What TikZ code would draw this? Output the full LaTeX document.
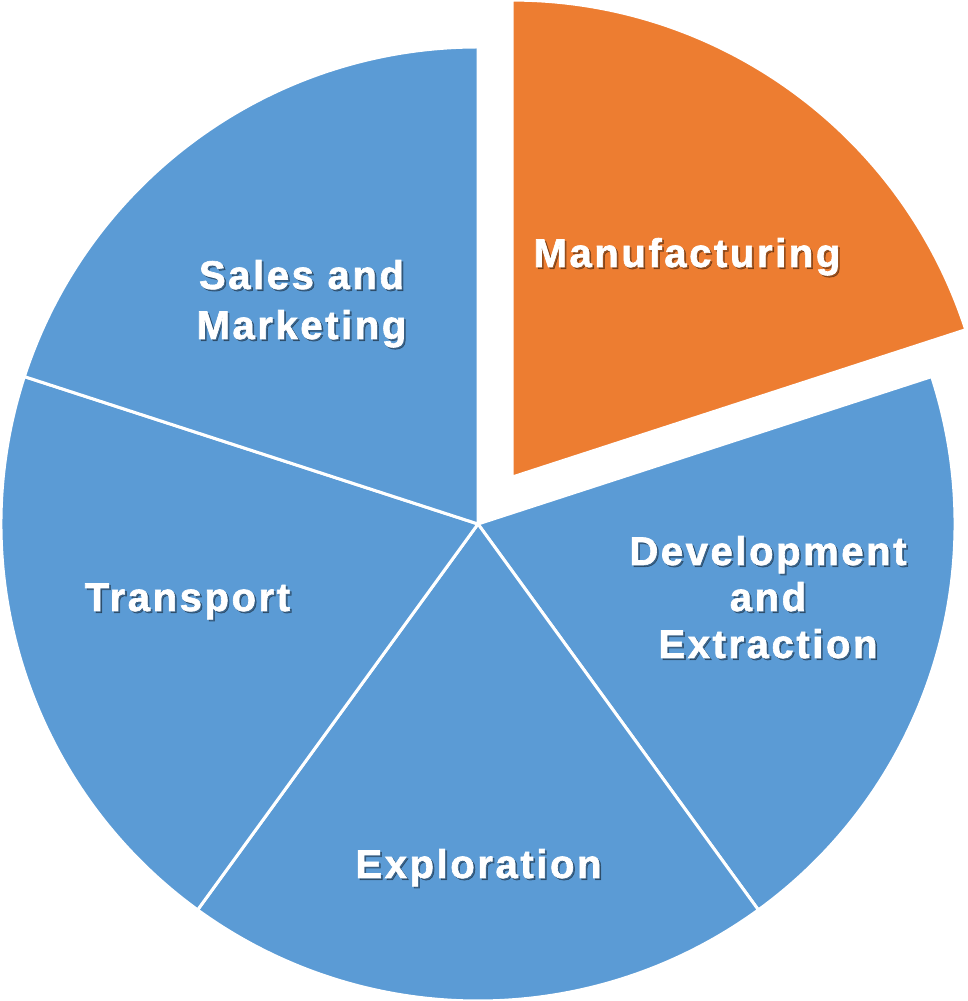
\documentclass[tikz,border=0pt]{standalone}
\usepackage{fontspec}
\newfontfamily\lblfont[LetterSpace=6.5,FakeBold=1.6]{Liberation Sans Bold}
\definecolor{pieblue}{HTML}{5B9BD5}
\definecolor{pieorange}{HTML}{ED7D31}
\newcommand\plab[4]{%
  \node[shadowlab] (#1s) at (#2+1.8,#3-1.8) {#4};
  \node[lab] (#1) at (#2,#3) {#4};}
\begin{document}
\begin{tikzpicture}[x=1pt,y=1pt,
  slice/.style={fill=pieblue, draw=white, line width=3pt, line join=round},
  lab/.style={text=white, font=\lblfont\fontsize{40}{48}\selectfont, anchor=base, inner sep=0pt},
  shadowlab/.style={lab, text=black, text opacity=0.35}]
\useasboundingbox (0,0) rectangle (967,1001);
\coordinate (C) at (478,477);
\coordinate (E) at (512.1,523.9);
% blue slices
\path[slice] (C) -- ++(18:477) arc[start angle=18, end angle=-54, radius=477] -- cycle;
\path[slice] (C) -- ++(-54:477) arc[start angle=-54, end angle=-126, radius=477] -- cycle;
\path[slice] (C) -- ++(-126:477) arc[start angle=-126, end angle=-198, radius=477] -- cycle;
\path[slice] (C) -- ++(162:477) arc[start angle=162, end angle=90, radius=477] -- cycle;
% exploded slice
\path[slice, fill=pieorange] (E) -- ++(90:477) arc[start angle=90, end angle=18, radius=477] -- cycle;
% labels
\plab{manu}{687}{734}{Manufacturing}
\plab{sales1}{301.5}{712}{Sales and}
\plab{sales2}{301.5}{662}{Marketing}
\plab{dev1}{768}{436}{Development}
\plab{dev2}{768}{390}{and}
\plab{dev3}{768}{343}{Extraction}
\plab{trans}{187.5}{390}{Transport}
\plab{expl}{478.5}{123}{Exploration}
\end{tikzpicture}
\end{document}
